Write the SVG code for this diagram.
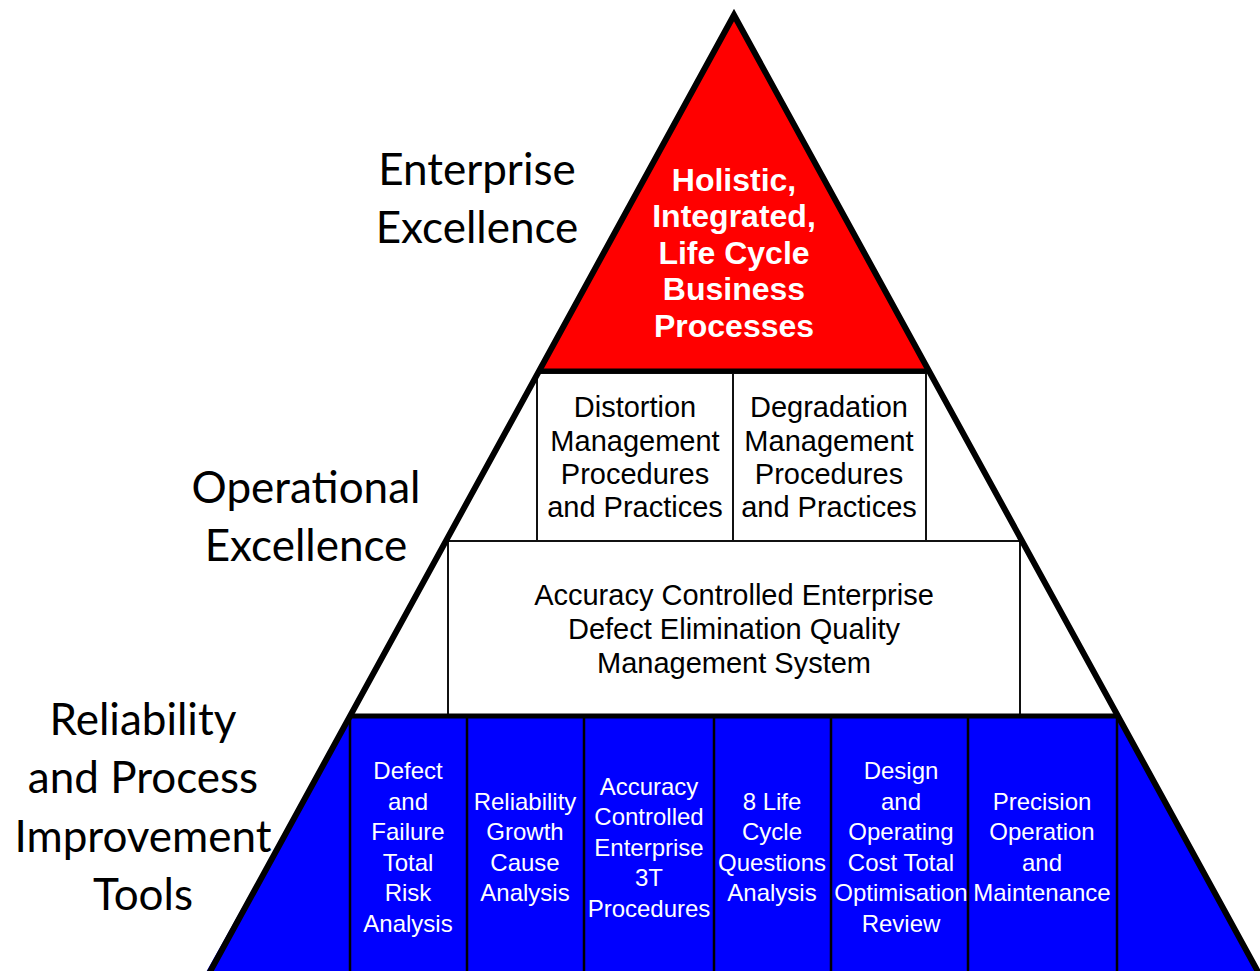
<svg xmlns="http://www.w3.org/2000/svg" width="1260" height="971" viewBox="0 0 1260 971">
<style>
.lbl{font-family:Lato,"Open Sans",sans-serif;font-size:44px;fill:#000;text-anchor:middle}
.red{font-family:"Liberation Sans",Arial,sans-serif;font-weight:bold;font-size:32px;fill:#fff;text-anchor:middle}
.mid{font-family:"Liberation Sans",Arial,sans-serif;font-size:29px;fill:#000;text-anchor:middle}
.blu{font-family:"Liberation Sans",Arial,sans-serif;font-size:24px;fill:#fff;text-anchor:middle}
.box{fill:#fff;stroke:#111;stroke-width:2}
.div{stroke:#000;stroke-width:2.5;fill:none}
</style>
<rect width="1260" height="971" fill="#fff"/>
<g id="top-tier">
<polygon points="734,15 538,371 930,371" fill="#ff0000"/>
<text class="red" x="734" y="191">Holistic,</text>
<text class="red" x="734" y="227">Integrated,</text>
<text class="red" x="734" y="264">Life Cycle</text>
<text class="red" x="734" y="300">Business</text>
<text class="red" x="734" y="337">Processes</text>
</g>
<g id="bottom-tier-bg">
<polygon points="350,716 1118,716 1270,990 196,990" fill="#0000ff"/>
</g>
<g id="distortion">
<rect class="box" x="537" y="373" width="196" height="168"/>
<text class="mid" x="635" y="417">Distortion</text>
<text class="mid" x="635" y="451">Management</text>
<text class="mid" x="635" y="484">Procedures</text>
<text class="mid" x="635" y="517">and Practices</text>
</g>
<g id="degradation">
<rect class="box" x="733" y="373" width="193" height="168"/>
<text class="mid" x="829" y="417">Degradation</text>
<text class="mid" x="829" y="451">Management</text>
<text class="mid" x="829" y="484">Procedures</text>
<text class="mid" x="829" y="517">and Practices</text>
</g>
<g id="ace-qms">
<rect class="box" x="448" y="541" width="572" height="175"/>
<text class="mid" x="734" y="605">Accuracy Controlled Enterprise</text>
<text class="mid" x="734" y="639">Defect Elimination Quality</text>
<text class="mid" x="734" y="673">Management System</text>
</g>
<g id="tools-dividers">
<path class="div" d="M350,716V971M467,716V971M584,716V971M714,716V971M831,716V971M968,716V971M1117,716V971"/>
</g>
<g id="tool-defect">
<text class="blu" x="408" y="779">Defect</text>
<text class="blu" x="408" y="810">and</text>
<text class="blu" x="408" y="840">Failure</text>
<text class="blu" x="408" y="871">Total</text>
<text class="blu" x="408" y="901">Risk</text>
<text class="blu" x="408" y="932">Analysis</text>
</g>
<g id="tool-reliability">
<text class="blu" x="525" y="810">Reliability</text>
<text class="blu" x="525" y="840">Growth</text>
<text class="blu" x="525" y="871">Cause</text>
<text class="blu" x="525" y="901">Analysis</text>
</g>
<g id="tool-ace3t">
<text class="blu" x="649" y="795">Accuracy</text>
<text class="blu" x="649" y="825">Controlled</text>
<text class="blu" x="649" y="856">Enterprise</text>
<text class="blu" x="649" y="886">3T</text>
<text class="blu" x="649" y="917">Procedures</text>
</g>
<g id="tool-8life">
<text class="blu" x="772" y="810">8 Life</text>
<text class="blu" x="772" y="840">Cycle</text>
<text class="blu" x="772" y="871">Questions</text>
<text class="blu" x="772" y="901">Analysis</text>
</g>
<g id="tool-design">
<text class="blu" x="901" y="779">Design</text>
<text class="blu" x="901" y="810">and</text>
<text class="blu" x="901" y="840">Operating</text>
<text class="blu" x="901" y="871">Cost Total</text>
<text class="blu" x="901" y="901">Optimisation</text>
<text class="blu" x="901" y="932">Review</text>
</g>
<g id="tool-precision">
<text class="blu" x="1042" y="810">Precision</text>
<text class="blu" x="1042" y="840">Operation</text>
<text class="blu" x="1042" y="871">and</text>
<text class="blu" x="1042" y="901">Maintenance</text>
</g>
<g id="pyramid-outline">
<polygon points="734,15 200,990 1268,990" fill="none" stroke="#000" stroke-width="6" stroke-linejoin="miter"/>
<line x1="538" y1="371" x2="930" y2="371" stroke="#000" stroke-width="5"/>
<line x1="350" y1="716" x2="1118" y2="716" stroke="#000" stroke-width="5"/>
</g>
<g id="labels">
<text class="lbl" x="477" y="185">Enterprise</text>
<text class="lbl" x="477" y="243">Excellence</text>
<text class="lbl" x="306" y="503">Operational</text>
<text class="lbl" x="306" y="561">Excellence</text>
<text class="lbl" x="143" y="735">Reliability</text>
<text class="lbl" x="143" y="793">and Process</text>
<text class="lbl" x="143" y="852">Improvement</text>
<text class="lbl" x="143" y="910">Tools</text>
</g>
</svg>
